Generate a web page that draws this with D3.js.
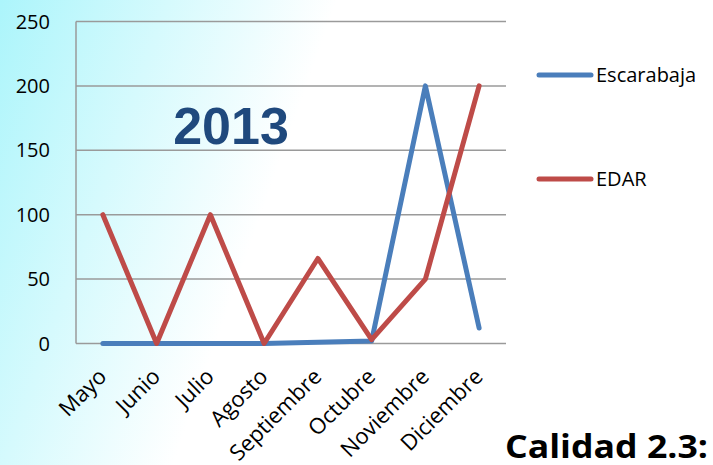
<!DOCTYPE html>
<html>
<head>
<meta charset="utf-8">
<script src="https://cdn.jsdelivr.net/npm/d3@7"></script>
<style>
  body { margin: 0; }
  svg { display: block; }
</style>
</head>
<body>
<script>
let months = ["Mayo", "Junio", "Julio", "Agosto", "Septiembre", "Octubre", "Noviembre", "Diciembre"];
let escarabaja = [0, 0, 0, 0, 1, 2, 200, 12];
let edar = [100, 0, 100, 0, 66, 3, 50, 200];
let yTicks = [0, 50, 100, 150, 200, 250];
let seriesNames = ["Escarabaja", "EDAR"];
let colors = ["#4a7ebb", "#be4b48"];

let width = 713, height = 465;
let font = "'Open Sans', 'Noto Sans', sans-serif";

var svg = d3.select("body")
  .append("svg")
  .attr("width", width)
  .attr("height", height);

// background fades from cyan at top left to white
let grad = svg.append("defs").append("linearGradient")
  .attr("id", "bg")
  .attr("gradientUnits", "userSpaceOnUse")
  .attr("x1", 0).attr("y1", 0)
  .attr("x2", 300).attr("y2", 106);
grad.append("stop").attr("offset", 0).attr("stop-color", "#acf5fb");
grad.append("stop").attr("offset", 1).attr("stop-color", "#ffffff");

svg.append("rect")
  .attr("width", width)
  .attr("height", height)
  .attr("fill", "url(#bg)");

let x = d3.scaleBand()
  .domain(months)
  .range([76, 506]);

let y = d3.scaleLinear()
  .domain([0, 250])
  .range([343.5, 21.5]);

// gridlines
svg.append("g")
  .selectAll("line")
  .data(yTicks)
  .join("line")
  .attr("x1", 76)
  .attr("x2", 506)
  .attr("y1", d => y(d))
  .attr("y2", d => y(d))
  .attr("stroke", "#9a9a9a")
  .attr("stroke-width", 1.5);

svg.append("line")
  .attr("x1", 76).attr("x2", 76)
  .attr("y1", y(250)).attr("y2", y(0))
  .attr("stroke", "#9a9a9a")
  .attr("stroke-width", 1.5);

// y labels
svg.append("g")
  .selectAll("text")
  .data(yTicks)
  .join("text")
  .attr("x", 50)
  .attr("y", d => y(d) + 7)
  .attr("text-anchor", "end")
  .style("font-family", font)
  .style("font-size", "20px")
  .attr("fill", "#000")
  .text(d => d);

// month labels
svg.append("g")
  .selectAll("text")
  .data(months)
  .join("text")
  .attr("transform", d => "translate(" + (x(d) + x.bandwidth() / 2 + 5) + ",378) rotate(-45)")
  .attr("text-anchor", "end")
  .style("font-family", font)
  .style("font-size", "22px")
  .attr("fill", "#000")
  .text(d => d);

let line = d3.line()
  .x((d, i) => x(months[i]) + x.bandwidth() / 2)
  .y(d => y(d));

svg.append("g")
  .selectAll("path")
  .data([escarabaja, edar])
  .join("path")
  .attr("d", line)
  .attr("fill", "none")
  .attr("stroke", (d, i) => colors[i])
  .attr("stroke-width", 5)
  .attr("stroke-linejoin", "round")
  .attr("stroke-linecap", "round");

// legend
let legend = svg.append("g")
  .selectAll("g")
  .data(seriesNames)
  .join("g")
  .attr("transform", (d, i) => "translate(0," + (75 + i * 104) + ")");

legend.append("line")
  .attr("x1", 539).attr("x2", 591)
  .attr("stroke", (d, i) => colors[i])
  .attr("stroke-width", 5)
  .attr("stroke-linecap", "round");

legend.append("text")
  .attr("x", 596)
  .attr("y", 7)
  .style("font-family", font)
  .style("font-size", "20px")
  .attr("fill", "#000")
  .text(d => d);

svg.append("text")
  .attr("x", 231)
  .attr("y", 144)
  .attr("text-anchor", "middle")
  .style("font-family", "'Liberation Sans', Arial, sans-serif")
  .style("font-weight", "bold")
  .style("font-size", "52px")
  .attr("fill", "#1f497d")
  .text("2013");

svg.append("text")
  .attr("x", 505)
  .attr("y", 458)
  .attr("textLength", 203)
  .attr("lengthAdjust", "spacingAndGlyphs")
  .style("font-family", font)
  .style("font-weight", "bold")
  .style("font-size", "33px")
  .attr("fill", "#000")
  .text("Calidad 2.3:");
</script>
</body>
</html>
